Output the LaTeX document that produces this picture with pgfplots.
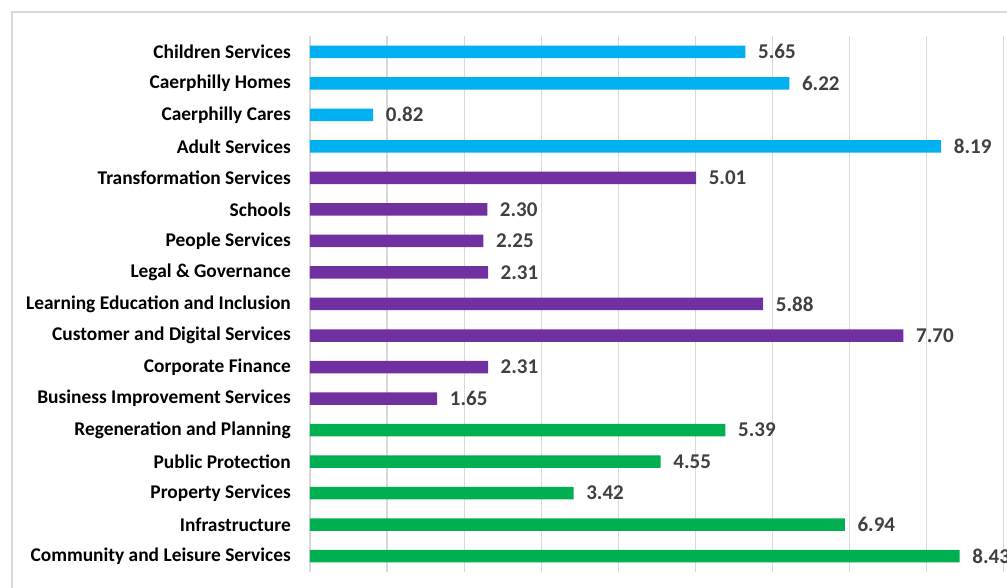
\documentclass[border=0pt]{standalone}
\usepackage{pgfplots}
\pgfplotsset{compat=1.18}
\usepackage{fontspec}
\setmainfont{Carlito}
\definecolor{cblue}{HTML}{00B0F0}
\definecolor{cpurple}{HTML}{7030A0}
\definecolor{cgreen}{HTML}{00B050}
\definecolor{cgrid}{HTML}{D9D9D9}
\definecolor{clabel}{HTML}{404040}
\begin{document}
\begin{tikzpicture}[x=1pt,y=1pt]
\useasboundingbox (0,0) rectangle (1007,587);
\clip (0,0) rectangle (1007,587);
\draw[cgrid, line width=1.5pt] (12,-30) rectangle (1050,575);
\begin{axis}[
  at={(310pt,15pt)}, anchor=south west,
  scale only axis, width=770.7pt, height=536pt,
  xmin=0, xmax=10, ymin=-0.5, ymax=16.5,
  axis line style={draw=none},
  xtick={0,1,...,10}, xticklabels={},
  xmajorgrids, grid style={cgrid, line width=1.2pt},
  major tick length=0pt,
  ytick={0,1,...,16},
  yticklabels={Community and Leisure Services, Infrastructure, Property Services, Public Protection, Regeneration and Planning, Business Improvement Services, Corporate Finance, Customer and Digital Services, Learning Education and Inclusion, Legal \& Governance, People Services, Schools, Transformation Services, Adult Services, Caerphilly Cares, Caerphilly Homes, Children Services},
  yticklabel style={font=\fontsize{19.4}{19.4}\selectfont\bfseries, text=black, inner sep=0pt, xshift=-19pt},
  xbar, bar width=12.5pt, bar shift=0pt,
  nodes near coords,
  nodes near coords style={font=\fontsize{21}{21}\selectfont\bfseries, text=clabel, anchor=west, inner sep=0pt, xshift=12.5pt, /pgf/number format/.cd, fixed, fixed zerofill, precision=2, assume math mode=true},
  clip=false,
]
\addplot[draw=none, fill=cgreen] coordinates {(8.43,0) (6.94,1) (3.42,2) (4.55,3) (5.39,4)};
\addplot[draw=none, fill=cpurple] coordinates {(1.65,5) (2.31,6) (7.70,7) (5.88,8) (2.31,9) (2.25,10) (2.30,11) (5.01,12)};
\addplot[draw=none, fill=cblue] coordinates {(8.19,13) (0.82,14) (6.22,15) (5.65,16)};
\end{axis}
\end{tikzpicture}
\end{document}
